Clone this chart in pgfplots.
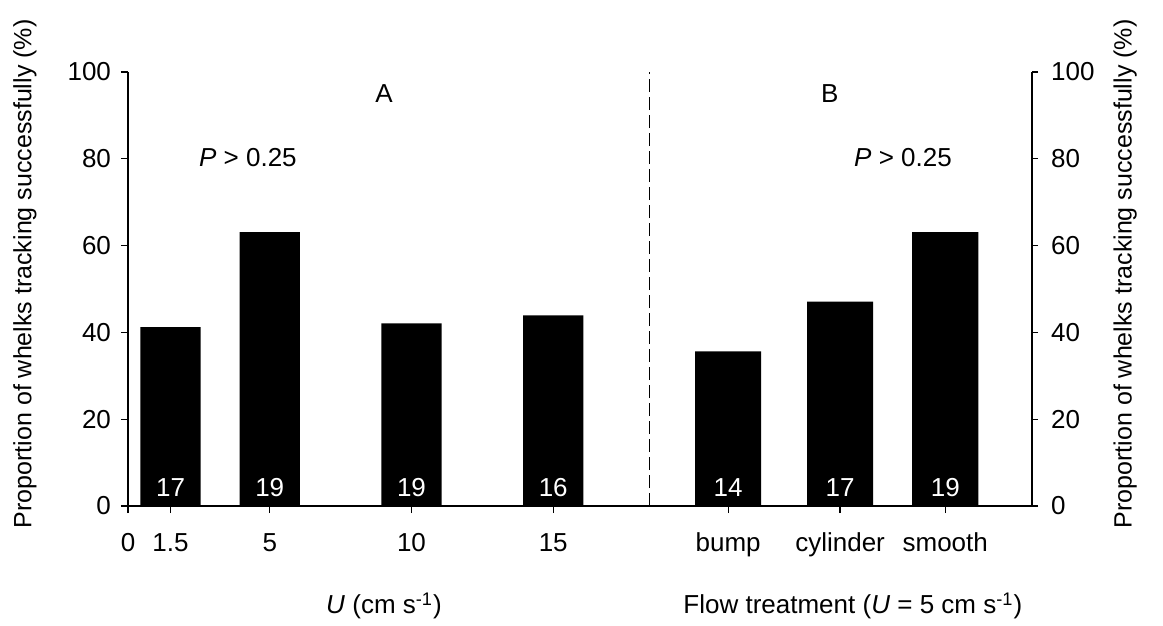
\documentclass[border=0pt]{standalone}
\usepackage{fontspec}
\setmainfont{Liberation Sans}
\usepackage{pgfplots}
\pgfplotsset{compat=1.18}

\newcommand{\fs}{\fontsize{13}{15}\selectfont}
\newcommand{\fsy}{\fontsize{12.5}{15}\selectfont}

\pgfplotsset{
  whelkaxis/.style={
    scale only axis, width=452pt, height=217pt,
    xmin=0, xmax=31.89, ymin=0, ymax=100,
    axis line style={line width=0.6pt},
    tick style={line width=0.6pt, black},
    tick align=outside, major tick length=3pt,
    ytick={0,20,...,100},
    /pgf/number format/assume math mode=true,
    tick label style={font=\fs},
    label style={font=\fsy},
    clip=false,
  },
}

\begin{document}
\begin{tikzpicture}
\begin{axis}[
  whelkaxis, name=ax,
  axis x line*=bottom, axis y line*=left,
  xtick={0,1.5,5,10,15,21.17,25.12,28.83},
  xticklabels={0,1.5,5,10,15,bump,cylinder,smooth},
  xticklabel style={anchor=north, text height=9.4pt, text depth=2.8pt, yshift=-6.5pt},
  yticklabel style={xshift=-1.5pt},
  major tick length=3.5pt,
  ylabel={Proportion of whelks tracking successfully (\%)},
  ylabel style={at={(axis description cs:-0.114,0.535)}, anchor=center},
]
% A: current speed treatments
\addplot[ybar, bar shift=0pt, bar width=2.12, fill=black, draw=none]
  coordinates {(1.5,41.2) (5,63.1) (10,42.1) (15,43.9)};
% B: flow treatments at U = 5 cm/s
\addplot[ybar, bar shift=0pt, bar width=2.33, fill=black, draw=none]
  coordinates {(21.17,35.6) (25.12,47.1) (28.83,63.1)};
% sample sizes inside the bars
\addplot[draw=none, mark=none, nodes near coords, point meta=explicit symbolic,
  nodes near coords style={white, anchor=center, font=\fs}]
  coordinates {(1.5,4.3)[17] (5,4.3)[19] (10,4.3)[19] (15,4.3)[16]
               (21.17,4.3)[14] (25.12,4.3)[17] (28.83,4.3)[19]};
% divider between the two panels
\addplot[black, line width=0.6pt, dash pattern=on 6.5pt off 2.5pt]
  coordinates {(18.39,0) (18.39,100)};
\node[font=\fs] at (axis cs:9.03,95.1) {A};
\node[font=\fs] at (axis cs:24.76,95.1) {B};
\node[font=\fs] at (axis cs:4.23,80.2) {\textit{P} > 0.25};
\node[font=\fs] at (axis cs:27.34,80.2) {\textit{P} > 0.25};
\node[font=\fs] at ([yshift=-50pt]axis cs:9.03,0) {\textit{U} (cm s\textsuperscript{-1})};
\node[font=\fs] at ([yshift=-50pt]axis cs:25.57,0) {Flow treatment (\textit{U} = 5 cm s\textsuperscript{-1})};
\end{axis}
\begin{axis}[
  whelkaxis,
  axis y line*=right, axis x line=none,
  yticklabel style={xshift=3pt},
  ylabel={Proportion of whelks tracking successfully (\%)},
  ylabel style={at={(axis description cs:1.103,0.535)}, anchor=center, rotate=0},
]
\end{axis}
\path ([shift={(-64pt,-58pt)}]ax.south west) rectangle ([shift={(65.5pt,36pt)}]ax.north east);
\end{tikzpicture}
\end{document}
